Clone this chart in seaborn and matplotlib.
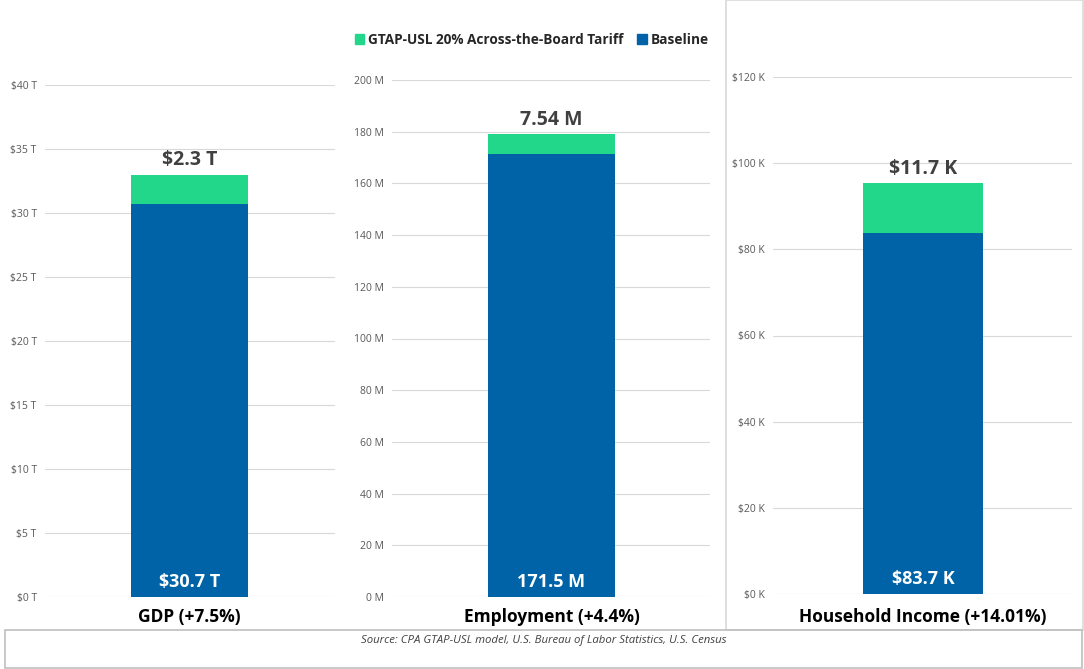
import numpy as np
import pandas as pd
import matplotlib
matplotlib.use("Agg")
import matplotlib.pyplot as plt
import seaborn as sns
from matplotlib.patches import Rectangle, Patch

# ---- data -------------------------------------------------------------
panels = ["GDP (+7.5%)", "Employment (+4.4%)", "Household Income (+14.01%)"]
baseline = [30.7, 171.5, 83.7]
tariff = [2.3, 7.54, 11.7]
top_labels = ["$2.3 T", "7.54 M", "$11.7 K"]
base_labels = ["$30.7 T", "171.5 M", "$83.7 K"]
y_ticks = [np.arange(0, 41, 5), np.arange(0, 201, 20), np.arange(0, 121, 20)]
y_ticklabels = [[f"${v} T" for v in range(0, 41, 5)],
                [f"{v} M" for v in range(0, 201, 20)],
                [f"${v} K" for v in range(0, 121, 20)]]

GREEN = "#22d68a"
BLUE = "#0063a8"
DARK = "#404040"

sns.set_theme(style="white")
plt.rcParams["font.family"] = ["Open Sans", "DejaVu Sans"]

W, H = 1084, 669
fig = plt.figure(figsize=(W / 100, H / 100), dpi=100)

# pixel layout of each panel: (x0, x1, y_zero, y_top_tick, bar_x0, bar_x1)
layout = [(45, 335, 597, 85, 131, 248),
          (392, 710, 597, 80, 488, 615),
          (773, 1072, 594, 77, 863, 983)]

for i, (x0, x1, yz, yt, b0, b1) in enumerate(layout):
    ax = fig.add_axes([x0 / W, (H - yz) / H, (x1 - x0) / W, (yz - yt) / H])
    df = pd.DataFrame({"cat": [panels[i]],
                       "base": [baseline[i]],
                       "total": [baseline[i] + tariff[i]]})
    wfrac = (b1 - b0) / (x1 - x0)
    cfrac = ((b0 + b1) / 2 - x0) / (x1 - x0)
    sns.barplot(data=df, x="cat", y="total", color=GREEN, width=wfrac,
                saturation=1, linewidth=0, ax=ax, zorder=3)
    sns.barplot(data=df, x="cat", y="base", color=BLUE, width=wfrac,
                saturation=1, linewidth=0, ax=ax, zorder=3)
    ax.set_xlim(-cfrac, 1 - cfrac)
    ax.set_ylim(0, y_ticks[i][-1])
    ax.set_yticks(y_ticks[i])
    ax.set_yticklabels(y_ticklabels[i], fontsize=7.5, color="#595959")
    ax.tick_params(axis="y", length=0, pad=6)
    ax.set_xticks([])
    ax.set_xlabel("")
    ax.set_ylabel("")
    ax.grid(axis="y", color="#d9d9d9", lw=0.8, zorder=0)
    ax.set_axisbelow(True)
    for s in ax.spines.values():
        s.set_visible(False)
    ax.patch.set_alpha(0)
    tot = baseline[i] + tariff[i]
    ax.annotate(top_labels[i], (0, tot), xytext=(0, 3), textcoords="offset points",
                ha="center", va="bottom", fontsize=14, fontweight="bold", color=DARK)
    ax.annotate(base_labels[i], (0, 0), xytext=(0, 4), textcoords="offset points",
                ha="center", va="bottom", fontsize=13, fontweight="bold", color="white")
    fig.text(((b0 + b1) / 2) / W, (H - 617) / H, panels[i], ha="center", va="center",
             fontsize=12.5, fontweight="bold", color="black")

# frames
fig.patches.append(Rectangle((726 / W, (H - 630) / H), 357 / W, 630 / H,
                             transform=fig.transFigure, fill=False,
                             edgecolor="#d9d9d9", lw=1.2))
fig.patches.append(Rectangle((5 / W, 1 / H), 1077 / W, 38 / H,
                             transform=fig.transFigure, fill=False,
                             edgecolor="#bfbfbf", lw=1.2))
fig.text(544 / W, (H - 640) / H,
         "Source: CPA GTAP-USL model, U.S. Bureau of Labor Statistics, U.S. Census",
         ha="center", va="center", fontsize=8.2, style="italic", color="#404040")

handles = [Patch(color=GREEN, label="GTAP-USL 20% Across-the-Board Tariff"),
           Patch(color=BLUE, label="Baseline")]
leg = fig.legend(handles=handles, loc="center", bbox_to_anchor=(532 / W, (H - 40) / H),
                 ncol=2, frameon=False, handlelength=0.7, handleheight=0.7,
                 handletextpad=0.3, columnspacing=1.0,
                 prop={"weight": "bold", "size": 9.8})

fig.savefig("out.png", dpi=100)
